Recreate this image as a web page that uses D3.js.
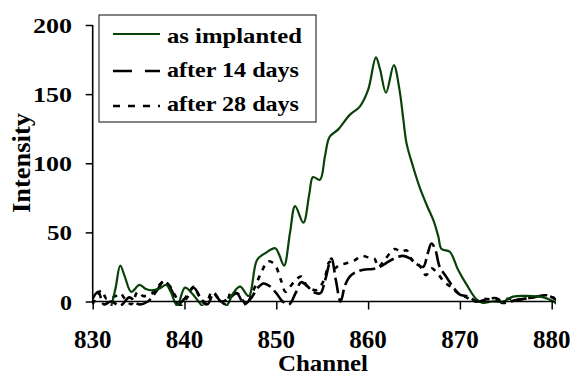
<!DOCTYPE html>
<html><head><meta charset="utf-8">
<script src="https://cdn.jsdelivr.net/npm/d3@7"></script>
<style>body{margin:0;background:#fff}svg{display:block}</style>
</head><body>
<svg id="c" width="570" height="376"></svg>
<script>
const seriesNames = ["as implanted", "after 14 days", "after 28 days"];
const xTicks = [830, 840, 850, 860, 870, 880];
const yTicks = [0, 50, 100, 150, 200];

const asImplanted = [
[832.0,-4],[832.5,10],[833.0,26],[833.5,18],[834.2,7],[835.1,12],[835.8,9],[836.4,8],[837.3,9.5],[838.0,12],[838.5,7],
[839.2,-3],[840.05,10],[840.8,6],[841.9,-3],[843.0,-9],[844.6,-3],[845.3,6],[846.05,10.7],[847.0,4],[847.9,30],[848.8,35],
[849.9,38.5],[850.3,34],[850.85,26],[851.5,50],[852.05,69],[852.95,57],[853.6,78],[854.0,90],[854.75,88],[855.3,105],
[855.8,119],[856.75,124.5],[858.0,135],[859.1,141],[860.0,153],[860.85,176.6],[861.3,168],[861.95,151],[862.8,171],
[863.4,154],[863.85,131],[864.2,114],[864.9,97.5],[865.65,82],[866.5,68],[867.1,59],[867.65,47],[868.0,38],[868.9,36],
[869.8,23],[870.75,12],[871.8,1.6],[872.5,-1],[873.5,0],[874.7,0],[875.8,3.5],[877.3,4],[879.1,3],[880.2,0],[880.6,-2]
];
const after14 = [
[830.0,2],[830.6,7],[831.2,-2],[832.0,0],[833.0,-3],[834.0,3],[835.0,-2],[836.0,0],[837.0,8],[837.8,15],[838.6,8],
[839.3,-2],[840.0,2],[841.0,10],[841.8,2],[842.5,-2],[843.2,6],[844.0,0],[845.0,3],[845.7,6],[846.5,-2],[847.2,2],
[848.0,10],[848.6,13],[849.3,11],[850.0,6],[850.7,0],[851.4,-2],[852.1,6],[852.7,14],[853.4,11],[854.0,7],[854.8,6],
[855.3,15],[856.0,31],[856.5,15],[857.0,0],[857.5,12],[858.0,18],[858.6,21],[859.5,23],[860.5,23.5],[861.3,25],
[862.0,28],[862.8,31],[863.8,33],[864.6,31],[865.3,27],[866.0,25],[866.5,35],[866.9,42],[867.3,38],[867.8,25],
[868.5,18],[869.3,10],[870.0,5],[870.9,3.5],[871.9,0],[872.9,1.6],[874.0,2.3],[874.6,-1],[876.1,1],[878.0,3],
[879.5,4.5],[880.5,1],[881.0,-2]
];
const after28 = [
[830.0,-2],[830.5,5],[831.0,8],[831.5,2],[832.5,4],[833.0,6],[833.5,2],[834.2,-2],[834.9,7],[835.5,4],[836.3,5],
[837.0,10],[837.6,14],[838.3,12],[839.0,4],[839.6,-3],[840.3,3],[841.0,10.7],[841.6,4],[842.3,-2],[843.0,7],[843.7,2],
[844.5,-2],[845.1,7],[846.0,4.7],[846.7,-2],[847.5,8],[848.3,20],[849.1,29],[849.8,27],[850.5,15.5],[851.0,7],
[851.5,10.7],[852.1,15.5],[852.7,18],[853.4,10.7],[854.4,8.3],[855.2,15.5],[855.8,28.8],[856.3,24],[856.9,26.4],
[857.8,28],[858.6,30],[859.3,33],[860.0,32],[860.7,31],[861.1,25],[861.9,31],[862.9,38],[863.6,36],[864.2,37],
[864.8,30],[865.6,26],[866.3,19],[866.9,24],[867.6,20],[868.3,14],[869.0,10.7],[869.8,6],[870.7,3],[871.6,0],
[872.6,2],[873.8,1],[875.0,2],[876.5,1.5],[878.0,3],[879.5,4],[880.5,2],[881.0,0]
];

const FONT = "Liberation Serif";
const svg = d3.select("#c");
const x = d3.scaleLinear().domain([830, 880]).range([92.7, 551.7]);
const y = d3.scaleLinear().domain([0, 200]).range([301.5, 25]);

svg.append("defs").append("clipPath").attr("id","clip")
  .append("rect").attr("x", 92).attr("y", 18).attr("width", 464).attr("height", 288);

const line = d3.line().x(d => x(d[0])).y(d => y(d[1])).curve(d3.curveCatmullRom.alpha(0.5));
const g = svg.append("g").attr("clip-path","url(#clip)");
g.append("path").datum(after28).attr("d", line).attr("fill","none").attr("stroke","#000")
  .attr("stroke-width",2.6).attr("stroke-dasharray","5,6");
g.append("path").datum(after14).attr("d", line).attr("fill","none").attr("stroke","#000")
  .attr("stroke-width",2.6).attr("stroke-dasharray","16,5");
g.append("path").datum(asImplanted).attr("d", line).attr("fill","none").attr("stroke","#094209")
  .attr("stroke-width",2.2);

// axes
const xa = svg.append("g").attr("transform",`translate(0,${y(0)})`)
  .call(d3.axisBottom(x).tickValues(xTicks).tickSize(8).tickFormat(""));
xa.select(".domain").remove();
xa.selectAll("line").attr("stroke","#000").attr("stroke-width",1.5);
svg.append("line").attr("x1", x(830)).attr("x2", x(880.35)).attr("y1", y(0)).attr("y2", y(0))
  .attr("stroke","#000").attr("stroke-width",1.6);
const ya = svg.append("g").attr("transform",`translate(${x(830)},0)`)
  .call(d3.axisLeft(y).tickValues(yTicks).tickSize(7).tickFormat(""));
ya.select(".domain").remove();
ya.selectAll("line").attr("stroke","#000").attr("stroke-width",1.5);
svg.append("line").attr("x1", x(830)).attr("x2", x(830)).attr("y1", y(200)).attr("y2", y(0)+1)
  .attr("stroke","#000").attr("stroke-width",1.6);

function txt(sel){ return sel.attr("font-family", FONT).attr("font-weight","bold").attr("fill","#000"); }

// tick labels
txt(svg.selectAll(".xl").data(xTicks).enter().append("text")
  .attr("x", d => x(d)).attr("y", 348).attr("text-anchor","middle")
  .attr("font-size", 25).text(d => d));
txt(svg.selectAll(".yl").data(yTicks).enter().append("text")
  .attr("x", 72).attr("y", d => y(d) + 8).attr("text-anchor","end")
  .attr("font-size", 20)
  .attr("textLength", d => String(d).length === 3 ? 39 : String(d).length === 2 ? 25 : 12)
  .attr("lengthAdjust","spacingAndGlyphs")
  .text(d => d));

txt(svg.append("text").attr("x", 323).attr("y", 371).attr("text-anchor","middle")
  .attr("font-size", 24).attr("textLength",90).attr("lengthAdjust","spacingAndGlyphs").text("Channel"));
txt(svg.append("text").attr("transform","translate(30,163) rotate(-90)").attr("text-anchor","middle")
  .attr("font-size", 25).attr("textLength",100).attr("lengthAdjust","spacingAndGlyphs").text("Intensity"));

// legend
const lg = svg.append("g");
lg.append("rect").attr("x", 99).attr("y", 15).attr("width", 217).attr("height", 107)
  .attr("fill","#fff").attr("stroke","#333").attr("stroke-width",1.2);
const legY = [34, 71, 106];
const legBase = [43, 77, 111];
const legStyle = [
  {c:"#094209", w:2.2, d:null},
  {c:"#000", w:2.6, d:"19,13"},
  {c:"#000", w:2.6, d:"7,8"}
];
const legLen = [135, 132, 132];
seriesNames.forEach((n,i) => {
  const l = lg.append("line").attr("x1",113).attr("x2",160).attr("y1",legY[i]).attr("y2",legY[i])
    .attr("stroke",legStyle[i].c).attr("stroke-width",legStyle[i].w);
  if (legStyle[i].d) l.attr("stroke-dasharray",legStyle[i].d);
  txt(lg.append("text").attr("x",167).attr("y",legBase[i]).attr("font-size",22)
    .attr("textLength",legLen[i]).attr("lengthAdjust","spacingAndGlyphs").text(n));
});
</script>
</body></html>
